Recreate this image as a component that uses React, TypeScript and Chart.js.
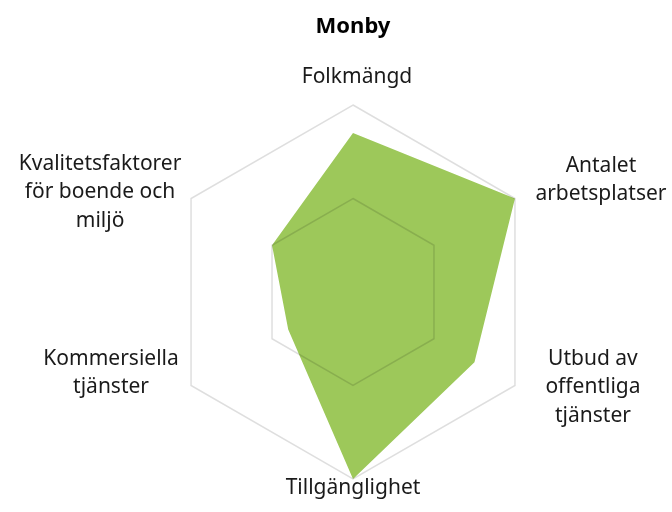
import React, { useEffect, useRef } from "react";
import { Chart, registerables } from "chart.js";

Chart.register(...registerables);

const TITLE = "Monby";
const CATEGORIES: string[][] = [
  ["Folkmängd"],
  ["Antalet", "arbetsplatser"],
  ["Utbud av", "offentliga", "tjänster"],
  ["Tillgänglighet"],
  ["Kommersiella", "tjänster"],
  ["Kvalitetsfaktorer", "för boende och", "miljö"],
];
const VALUES = [1.7, 2.0, 1.5, 2.0, 0.8, 1.0];
const SCALE_MAX = 2;
const SCALE_STEP = 1;

// label placement relative to each axis' outer vertex: [centre dx, first baseline dy]
const LABEL_OFFSETS: [number, number][] = [
  [4, -22],
  [86, -27],
  [78, -21],
  [0, 15],
  [-80, -21],
  [-91, -29],
];
const LABEL_FONT = '21px "Noto Sans"';
const LABEL_LINE = 28.7;

const labelPlugin = {
  id: "customPointLabels",
  afterDraw(chart: any) {
    const scale = chart.scales.r;
    const ctx = chart.ctx;
    ctx.save();
    ctx.font = LABEL_FONT;
    ctx.fillStyle = "#1a1a1a";
    ctx.textAlign = "center";
    ctx.textBaseline = "alphabetic";
    CATEGORIES.forEach((lines, i) => {
      const v = scale.getPointPositionForValue(i, scale.max);
      const [dx, dy] = LABEL_OFFSETS[i];
      lines.forEach((line, j) => {
        ctx.fillText(line, v.x + dx, v.y + dy + j * LABEL_LINE);
      });
    });
    ctx.restore();
  },
};

export default function App() {
  const ref = useRef<HTMLCanvasElement>(null);
  useEffect(() => {
    document.body.style.margin = "0";
    const chart = new Chart(ref.current!, {
      type: "radar",
      data: {
        labels: CATEGORIES.map((c) => c.join(" ")),
        datasets: [
          {
            data: VALUES,
            backgroundColor: "rgb(157,200,90)",
            borderWidth: 0,
            pointRadius: 0,
            fill: true,
          },
        ],
      },
      options: {
        animation: false,
        responsive: false,
        maintainAspectRatio: false,
        layout: { padding: { top: 0, bottom: 32, left: 165, right: 131 } },
        plugins: {
          legend: { display: false },
          tooltip: { enabled: false },
          title: {
            display: true,
            text: TITLE,
            color: "#000",
            font: { family: "Noto Sans", size: 22, weight: "bold" },
            padding: { top: 14, bottom: 64 },
          },
        },
        scales: {
          r: {
            min: 0,
            max: SCALE_MAX,
            ticks: { display: false, stepSize: SCALE_STEP },
            grid: { color: "rgba(0,0,0,0.13)", lineWidth: 1.5, z: 1 },
            angleLines: { display: false },
            pointLabels: { display: false },
          },
        },
      },
      plugins: [labelPlugin],
    });
    return () => chart.destroy();
  }, []);
  return (
    <div style={{ width: 672, height: 512, background: "#fff" }}>
      <canvas ref={ref} width={672} height={512} style={{ display: "block" }} />
    </div>
  );
}
